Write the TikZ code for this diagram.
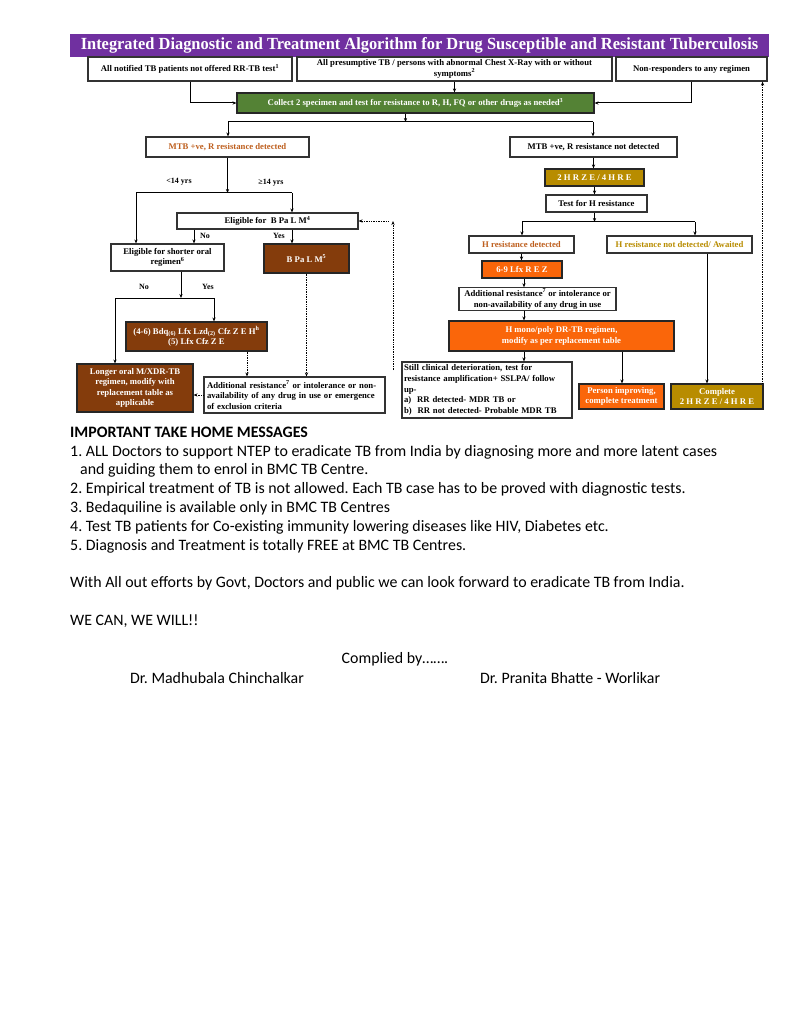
\documentclass[tikz,border=0pt]{standalone}
\usepackage{fontspec}
\setmainfont{Liberation Serif}
\newfontfamily\msgfont{Carlito}
\usetikzlibrary{arrows.meta}

\definecolor{titlepurple}{RGB}{112,48,160}
\definecolor{specgreen}{RGB}{84,130,53}
\definecolor{regbrown}{RGB}{132,60,12}
\definecolor{regorange}{RGB}{250,102,10}
\definecolor{reggold}{RGB}{184,140,0}
\definecolor{txtbrown}{RGB}{190,95,30}

\begin{document}
\frenchspacing
\begin{tikzpicture}[x=1pt, y=-1pt, >={Stealth[length=4pt, width=3.2pt]},
		wbox/.style={draw=black!80, line width=1.1pt, fill=white, inner sep=1pt, align=center, font=\bfseries\fontsize{8.7}{10.6}\selectfont},
		fbox/.style={wbox, draw=black!85, text=white},
		link/.style={line width=1pt},
		back/.style={line width=0.7pt, densely dotted},
		lbl/.style={font=\bfseries\fontsize{8}{9}\selectfont, inner sep=0.5pt},
		msg/.style={anchor=base west, inner sep=0, font=\msgfont\fontsize{15.9}{18.8}\selectfont}]
			\fill[white] (0,0) rectangle (791,1024);
			\useasboundingbox (0,0) rectangle (791,1024);

			\node[fill=titlepurple, minimum width=699, minimum height=23, inner sep=0, text=white, font=\bfseries\fontsize{17}{17}\selectfont] (title) at (419.5,45.5) {\scalebox{0.965}[1]{Integrated Diagnostic and Treatment Algorithm for Drug Susceptible and Resistant Tuberculosis}};

			\node[wbox, minimum width=204, minimum height=24] (notified) at (190,69) {All notified TB patients not offered RR-TB test\textsuperscript{1}};
			\node[wbox, minimum width=315, minimum height=24] (presumptive) at (454.5,69) {All presumptive TB / persons with abnormal Chest X-Ray with or without\\symptoms\textsuperscript{2}};
			\node[wbox, minimum width=151, minimum height=24] (nonresp) at (691.5,69) {Non-responders to any regimen};
			\node[fbox, fill=specgreen, minimum width=357, minimum height=20] (collect) at (415.5,103) {Collect 2 specimen and test for resistance to R, H, FQ or other drugs as needed\textsuperscript{3}};
			\node[wbox, text=txtbrown, minimum width=163, minimum height=20] (rdet) at (227.5,147) {MTB +ve, R resistance detected};
			\node[wbox, minimum width=167, minimum height=20] (rnot) at (593.5,147) {MTB +ve, R resistance not detected};

			\node[wbox, minimum width=181, minimum height=16] (elig) at (267.5,221) {Eligible for\ \ B Pa L M\textsuperscript{4}};
			\node[wbox, minimum width=113, minimum height=27] (shorter) at (167.5,257.5) {Eligible for shorter oral\\regimen\textsuperscript{6}};
			\node[fbox, fill=regbrown, minimum width=85, minimum height=29] (bpalm) at (306.5,258.5) {B Pa L M\textsuperscript{5}};
			\node[fbox, fill=regbrown, minimum width=141, minimum height=29] (sor) at (196.5,336.5) {(4-6) Bdq\textsubscript{(6)} Lfx Lzd\textsubscript{(2)} Cfz Z E H\textsuperscript{h}\\(5) Lfx Cfz Z E};
			\node[fbox, fill=regbrown, minimum width=116, minimum height=48] (longer) at (135,388) {Longer oral M/XDR-TB\\regimen, modify with\\replacement table as\\applicable};
			\node[wbox, align=left, text width=175, minimum height=36, inner sep=3pt] (addl) at (294.5,395) {Additional resistance\textsuperscript{7} or intolerance or non-\\availability of any drug in use or emergence\\of exclusion criteria};

			\node[fbox, fill=reggold, minimum width=99, minimum height=17] (hrze) at (594.5,177.5) {2 H R Z E / 4 H R E};
			\node[wbox, minimum width=101, minimum height=17] (testh) at (596.5,203.5) {Test for H resistance};
			\node[wbox, text=txtbrown, minimum width=105, minimum height=17] (hdet) at (521.5,244.5) {H resistance detected};
			\node[wbox, text=reggold, minimum width=145, minimum height=17] (hnot) at (679.5,244.5) {H resistance not detected/ Awaited};
			\node[fbox, fill=regorange, minimum width=80, minimum height=17] (lfx) at (522,269.5) {6-9 Lfx R E Z};
			\node[wbox, minimum width=157, minimum height=22] (addr) at (537.5,299) {Additional resistance\textsuperscript{7} or intolerance or\\non-availability of any drug in use};
			\node[fbox, fill=regorange, minimum width=225, minimum height=30] (hmono) at (561.5,336) {H mono/poly DR-TB regimen,\\modify as per replacement table};
			\node[wbox, align=left, text width=166, minimum height=56, inner sep=2pt] (still) at (487,390) {Still clinical deterioration, test for\\resistance amplification+ SSLPA/ follow\\up-\\a)\ \ RR detected- MDR TB or\\b)\ \ RR not detected- Probable MDR TB};
			\node[fbox, fill=regorange, minimum width=85, minimum height=25] (person) at (621.5,396.5) {Person improving,\\complete treatment};
			\node[fbox, fill=reggold, minimum width=92, minimum height=25] (complete) at (717,396.5) {Complete\\2 H R Z E / 4 H R E};

			\coordinate (cl) at (228,122);
			\coordinate (cr) at (593,122);
			\draw[link, ->] (notified.south) |- (collect.west);
			\draw[link, ->] (presumptive.south) -- (presumptive.south |- collect.north);
			\draw[link, ->] (nonresp.south) |- (collect.east);
			\draw[link, ->] ([xshift=-10]collect.south) -- ([xshift=-10]collect.south |- cl);
			\draw[link] (cl) -- (cr);
			\draw[link, ->] (cl) -- (cl |- rdet.north);
			\draw[link, ->] (cr) -- (cr |- rnot.north);

			\coordinate (kid) at (136,193);
			\coordinate (adult) at (292,193);
			\draw[link, ->] (rdet.south) -- (rdet.south |- kid);
			\draw[link] (kid) -- (adult);
			\draw[link, ->] (kid) -- (kid |- shorter.north);
			\draw[link, ->] (adult) -- (adult |- elig.north);
			\draw[link, ->] (adult |- elig.south) -- (adult |- bpalm.north);
			\draw[link, ->] ([xshift=-73.5]elig.south) -- ([xshift=-73.5]elig.south |- shorter.north);
			\node[lbl] (under) at (179,182) {<14 yrs};
			\node[lbl] (over) at (271,183) {≥14 yrs};
			\node[lbl] (eno) at (205,236) {No};
			\node[lbl] (eyes) at (279,236) {Yes};

			\coordinate (sl) at (115,298);
			\coordinate (sr) at (214,298);
			\draw[link, ->] ([xshift=13.5]shorter.south) -- ([xshift=13.5]shorter.south |- sl);
			\draw[link] (sl) -- (sr);
			\draw[link, ->] (sr) -- (sr |- sor.north);
			\draw[link, ->] (sl) -- (sl |- longer.north);
			\node[lbl] (sno) at (144,287) {No};
			\node[lbl] (syes) at (208,287) {Yes};
			\draw[back, ->] ([xshift=50.5]sor.south) -- ([xshift=50.5]sor.south |- addl.north);
			\draw[back, ->] (bpalm.south) -- (bpalm.south |- addl.north);
			\draw[back, ->] (addl.west) -- (addl.west -| longer.east);
			\coordinate (fb) at (393,370);
			\draw[back, ->] (fb) -- (fb |- elig.east);
			\draw[back, ->] ([xshift=30]elig.east) -- (elig.east);

			\coordinate (hl) at (522,222);
			\coordinate (hr) at (695,222);
			\draw[link, ->] (rnot.south) -- (rnot.south |- hrze.north);
			\draw[link, ->] (hrze.south) -- (hrze.south |- testh.north);
			\draw[link, ->] ([xshift=-2]testh.south) -- ([xshift=-2]testh.south |- hl);
			\draw[link] (hl) -- (hr);
			\draw[link, ->] (hl) -- (hl |- hdet.north);
			\draw[link, ->] (hr) -- (hr |- hnot.north);
			\draw[link, ->] (hdet.south) -- (hdet.south |- lfx.north);
			\draw[link, ->] ([xshift=2]lfx.south) -- ([xshift=2]lfx.south |- addr.north);
			\draw[link, ->] ([xshift=-13.5]addr.south) -- ([xshift=-13.5]addr.south |- hmono.north);
			\draw[link, ->] ([xshift=-37.5]hmono.south) -- ([xshift=-37.5]hmono.south |- still.north);
			\draw[link, ->] ([xshift=60.5]hmono.south) -- ([xshift=60.5]hmono.south |- person.north);
			\draw[link, ->] ([xshift=27.5]hnot.south) -- ([xshift=27.5]hnot.south |- complete.north);
			\draw[back, ->] ([xshift=-1]complete.north east) -- ([xshift=-1]complete.north east |- nonresp.south);

			\node[msg] (head) at (70,437) {\bfseries IMPORTANT TAKE HOME MESSAGES};
			\node[msg] (m1) at (70,456) {1. ALL Doctors to support NTEP to eradicate TB from India by diagnosing more and more latent cases};
			\node[msg] (m1b) at (80,474) {and guiding them to enrol in BMC TB Centre.};
			\node[msg] (m2) at (70,493) {2. Empirical treatment of TB is not allowed. Each TB case has to be proved with diagnostic tests.};
			\node[msg] (m3) at (70,512) {3. Bedaquiline is available only in BMC TB Centres};
			\node[msg] (m4) at (70,531) {4. Test TB patients for Co-existing immunity lowering diseases like HIV, Diabetes etc.};
			\node[msg] (m5) at (70,550) {5. Diagnosis and Treatment is totally FREE at BMC TB Centres.};
			\node[msg] (effort) at (70,587) {With All out efforts by Govt, Doctors and public we can look forward to eradicate TB from India.};
			\node[msg] (will) at (70,625) {WE CAN, WE WILL!!};
			\node[msg, anchor=base] (compiled) at (395,663) {Complied by…….};
			\node[msg] (drm) at (130,683) {Dr. Madhubala Chinchalkar};
			\node[msg] (drp) at (480,683) {Dr. Pranita Bhatte - Worlikar};
\end{tikzpicture}
\end{document}
